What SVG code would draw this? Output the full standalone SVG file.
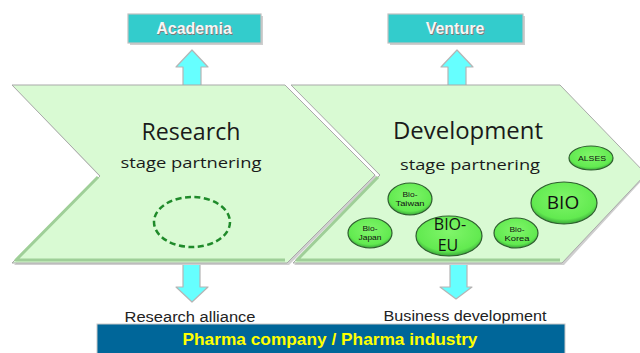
<svg xmlns="http://www.w3.org/2000/svg" width="640" height="353" viewBox="0 0 640 353">
<style>
.chev{fill:#d9fad3;stroke:#a9a9a9;stroke-width:1}
.bevel{fill:none;stroke:#9fcf98;stroke-width:3;stroke-linejoin:round}
.shadow{fill:#cfcfcf}
.box{fill:#33cccc;stroke:#c0c0c0;stroke-width:1.2}
.boxt{font-family:"Liberation Sans",Arial,sans-serif;font-weight:bold;font-size:16px;text-anchor:middle}
.arrow{fill:#66ffff;stroke:#b5b5b5;stroke-width:1.2;stroke-linejoin:round}
.title{font-family:"Open Sans","Noto Sans",sans-serif;font-size:23px;fill:#1a1a1a;text-anchor:middle}
.sub{font-family:"Open Sans","Noto Sans",sans-serif;font-size:15px;fill:#1a1a1a;text-anchor:middle}
.ell{fill:url(#eg);stroke:#2f5f2f;stroke-width:1.2}
.et{font-family:"Open Sans","Noto Sans",sans-serif;fill:#111;text-anchor:middle}
.es{font-family:"Liberation Sans",Arial,sans-serif;font-size:8px;fill:#111;text-anchor:middle}
.lbl{font-family:"Liberation Sans",Arial,sans-serif;font-size:14px;fill:#222;text-anchor:middle}
</style>
<defs>
<radialGradient id="eg" cx="50%" cy="40%" r="60%">
<stop offset="0" stop-color="#80f56a"/>
<stop offset="0.8" stop-color="#62ea50"/>
<stop offset="1" stop-color="#3aa83a"/>
</radialGradient>
</defs>

<g id="academia">
<rect x="130" y="16" width="133" height="29" class="shadow"/>
<rect x="128" y="14" width="133" height="29" class="box"/>
<text x="195" y="35" class="boxt" fill="#7a7a7a">Academia</text>
<text x="194" y="34" class="boxt" fill="#f6f6f6">Academia</text>
</g>
<g id="venture">
<rect x="390" y="16" width="135" height="29" class="shadow"/>
<rect x="388" y="14" width="135" height="29" class="box"/>
<text x="456" y="35" class="boxt" fill="#7a7a7a">Venture</text>
<text x="455" y="34" class="boxt" fill="#f6f6f6">Venture</text>
</g>

<g id="connectors">
<polygon class="arrow" points="183,86 183,67 176,67 192,50 208,67 201,67 201,86"/>
<polygon class="arrow" points="448,86 448,67 441,67 457,50 473,67 466,67 466,86"/>
<polygon class="arrow" points="183,262 183,287 176,287 192,302 208,287 200,287 200,262"/>
<polygon class="arrow" points="450,262 450,287 440,287 456,299 472,287 467,287 467,262"/>
</g>

<g id="research">
<polygon class="shadow" points="14,265 102,179 14,87 287,87 377,177 289,265"/>
<polygon class="chev" points="12,85 285,85 375,175 287,263 12,263 100,176"/>
<polyline class="bevel" points="98,177 16,260 285,260"/>
<text x="191" y="140" class="title" textLength="99" lengthAdjust="spacingAndGlyphs">Research</text>
<text x="191" y="168" class="sub" textLength="141" lengthAdjust="spacingAndGlyphs">stage partnering</text>
<ellipse cx="192" cy="222" rx="38" ry="25" fill="none" stroke="#1f8a2a" stroke-width="2.5" stroke-dasharray="6,3.5"/>
</g>

<g id="development">
<polygon class="shadow" points="294,87 562,87 645,177 564,265 294,265 381,177"/>
<polygon class="chev" points="291,85 560,85 646,174 562,263 293,263 380,175"/>
<polyline class="bevel" points="378,177 297,260 560,260"/>
<text x="468" y="139" class="title" textLength="150" lengthAdjust="spacingAndGlyphs">Development</text>
<text x="470" y="170" class="sub" textLength="140" lengthAdjust="spacingAndGlyphs">stage partnering</text>
</g>

<g id="alses">
<ellipse cx="591" cy="158" rx="22" ry="12" class="ell"/>
<text x="592" y="161" class="es" font-size="9.5" textLength="28" lengthAdjust="spacingAndGlyphs">ALSES</text>
</g>
<g id="bio">
<ellipse cx="564" cy="203" rx="33" ry="21" class="ell"/>
<text x="563" y="209" class="et" font-size="19">BIO</text>
</g>
<g id="bio-taiwan">
<ellipse cx="410" cy="199" rx="22" ry="16" class="ell"/>
<text x="410" y="197" class="es" textLength="15" lengthAdjust="spacingAndGlyphs">Bio-</text>
<text x="410" y="206" class="es" textLength="29" lengthAdjust="spacingAndGlyphs">Taiwan</text>
</g>
<g id="bio-japan">
<ellipse cx="370" cy="233" rx="22" ry="15" class="ell"/>
<text x="370" y="231" class="es" textLength="15" lengthAdjust="spacingAndGlyphs">Bio-</text>
<text x="370" y="240" class="es" textLength="23" lengthAdjust="spacingAndGlyphs">Japan</text>
</g>
<g id="bio-eu">
<ellipse cx="449" cy="236" rx="33" ry="20" class="ell"/>
<text x="450" y="230" class="et" font-size="16">BIO-</text>
<text x="448" y="251" class="et" font-size="16">EU</text>
</g>
<g id="bio-korea">
<ellipse cx="516" cy="233" rx="22" ry="15" class="ell"/>
<text x="517" y="232" class="es" textLength="15" lengthAdjust="spacingAndGlyphs">Bio-</text>
<text x="517" y="241" class="es" textLength="25" lengthAdjust="spacingAndGlyphs">Korea</text>
</g>

<g id="research-alliance">
<text x="190" y="322" class="lbl" textLength="131" lengthAdjust="spacingAndGlyphs">Research alliance</text>
</g>
<g id="business-development">
<text x="465" y="321" class="lbl" textLength="163" lengthAdjust="spacingAndGlyphs">Business development</text>
</g>

<g id="pharma">
<rect x="97" y="324" width="468" height="31" fill="#006699" stroke="#c8c8c8" stroke-width="1"/>
<text x="330" y="345" font-family="Liberation Sans,Arial,sans-serif" font-weight="bold" font-size="17" fill="#ffff00" text-anchor="middle" textLength="295" lengthAdjust="spacingAndGlyphs">Pharma company / Pharma industry</text>
</g>
</svg>
